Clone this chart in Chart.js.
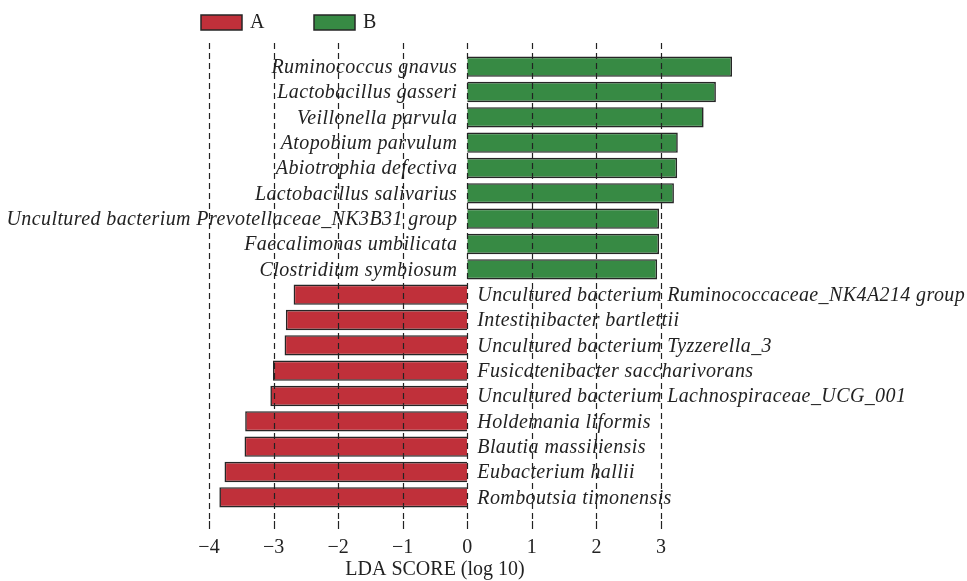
<!DOCTYPE html>
<html>
<head>
<meta charset="utf-8">
<script src="https://cdn.jsdelivr.net/npm/chart.js@4"></script>
<style>
html,body{margin:0;padding:0;background:#fff;}
#wrap{width:967px;height:581px;}
</style>
</head>
<body>
<div id="wrap"><canvas id="c" width="967" height="581"></canvas></div>
<script>
const categories = [
  "Ruminococcus gnavus",
  "Lactobacillus gasseri",
  "Veillonella parvula",
  "Atopobium parvulum",
  "Abiotrophia defectiva",
  "Lactobacillus salivarius",
  "Uncultured bacterium Prevotellaceae_NK3B31 group",
  "Faecalimonas umbilicata",
  "Clostridium symbiosum",
  "Uncultured bacterium Ruminococcaceae_NK4A214 group",
  "Intestinibacter bartlettii",
  "Uncultured bacterium Tyzzerella_3",
  "Fusicatenibacter saccharivorans",
  "Uncultured bacterium Lachnospiraceae_UCG_001",
  "Holdemania liformis",
  "Blautia massiliensis",
  "Eubacterium hallii",
  "Romboutsia timonensis"
];
const groupA = [null, null, null, null, null, null, null, null, null,
  -2.69, -2.81, -2.83, -3.01, -3.05, -3.44, -3.45, -3.76, -3.84];
const groupB = [4.10, 3.85, 3.66, 3.26, 3.25, 3.20, 2.97, 2.97, 2.94,
  null, null, null, null, null, null, null, null, null];
const tickValues = [-4, -3, -2, -1, 0, 1, 2, 3];
const seriesNames = ["A", "B"];
const xTitle = "LDA SCORE (log 10)";

const RED = "#c0303a";
const GREEN = "#378a44";
const EDGE = "#262626";
const SERIF = "'Liberation Serif', 'DejaVu Serif', serif";

const overlayPlugin = {
  id: 'overlay',
  afterDatasetsDraw(chart) {
    const ctx = chart.ctx;
    const x = chart.scales.x, y = chart.scales.y;
    const x0 = x.getPixelForValue(0);
    ctx.save();
    ctx.font = "italic 20px " + SERIF;
    try { ctx.letterSpacing = "0.4px"; } catch (e) {}
    ctx.fillStyle = "#222";
    ctx.textBaseline = "middle";
    categories.forEach((name, i) => {
      const yc = y.getPixelForValue(i) + 1;
      const v = groupB[i] != null ? groupB[i] : groupA[i];
      if (v > 0) {
        ctx.textAlign = "right";
        ctx.fillText(name, x0 - 10, yc);
      } else {
        ctx.textAlign = "left";
        ctx.fillText(name, x0 + 10, yc);
      }
    });
    ctx.restore();
  },
  afterDraw(chart) {
    const ctx = chart.ctx;
    const x = chart.scales.x;
    ctx.save();
    ctx.strokeStyle = "#222";
    ctx.lineWidth = 1.2;
    tickValues.forEach(t => {
      const px = Math.round(x.getPixelForValue(t)) + 0.5;
      ctx.setLineDash([6, 4]);
      ctx.beginPath();
      ctx.moveTo(px, 43);
      ctx.lineTo(px, 520);
      ctx.stroke();
      ctx.setLineDash([]);
      ctx.beginPath();
      ctx.moveTo(px, 521);
      ctx.lineTo(px, 529);
      ctx.stroke();
    });
    // axis title centred on the tick range
    const xc = (x.getPixelForValue(tickValues[0]) + x.getPixelForValue(tickValues[tickValues.length - 1])) / 2;
    ctx.font = "20px " + SERIF;
    ctx.fillStyle = "#222";
    ctx.textAlign = "center";
    ctx.textBaseline = "middle";
    ctx.fillText(xTitle, xc, 570);
    // legend
    const items = [{x: 201, c: RED, t: seriesNames[0]}, {x: 314, c: GREEN, t: seriesNames[1]}];
    ctx.font = "20px " + SERIF;
    ctx.textAlign = "left";
    items.forEach(it => {
      ctx.fillStyle = it.c;
      ctx.fillRect(it.x, 15, 41, 15);
      ctx.strokeStyle = EDGE;
      ctx.lineWidth = 1.5;
      ctx.strokeRect(it.x, 15, 41, 15);
      ctx.fillStyle = "#222";
      ctx.fillText(it.t, it.x + 49, 23);
    });
    ctx.restore();
  }
};

new Chart(document.getElementById('c'), {
  type: 'bar',
  data: {
    labels: categories,
    datasets: [
      {label: seriesNames[0], data: groupA, backgroundColor: RED, borderColor: EDGE, borderWidth: 1.6, grouped: false, barPercentage: 0.8, categoryPercentage: 1},
      {label: seriesNames[1], data: groupB, backgroundColor: GREEN, borderColor: EDGE, borderWidth: 1.6, grouped: false, barPercentage: 0.8, categoryPercentage: 1}
    ]
  },
  options: {
    indexAxis: 'y',
    responsive: false,
    animation: false,
    devicePixelRatio: 1,
    layout: {padding: {top: 54, left: 0, right: 0, bottom: 0}},
    plugins: {legend: {display: false}, tooltip: {enabled: false}},
    scales: {
      y: {display: false, offset: true},
      x: {
        type: 'linear',
        min: -7.237,
        max: 7.739,
        afterBuildTicks(scale) { scale.ticks = tickValues.map(v => ({value: v})); },
        afterFit(scale) { scale.height = 71; },
        grid: {display: false, drawTicks: false},
        border: {display: false},
        ticks: {
          padding: 26,
          color: "#222",
          font: {family: SERIF, size: 20},
          callback: v => (v < 0 ? "\u2212" + Math.abs(v) : String(v))
        },
        title: {display: false}
      }
    }
  },
  plugins: [overlayPlugin]
});
</script>
</body>
</html>
